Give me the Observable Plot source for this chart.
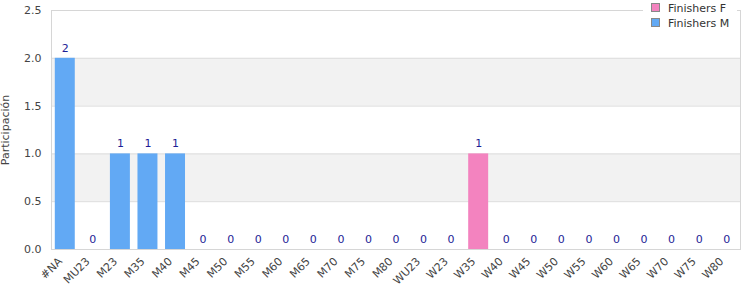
<!DOCTYPE html>
<html><head><meta charset="utf-8">
<script src="https://cdn.jsdelivr.net/npm/d3@7"></script>
<script src="https://cdn.jsdelivr.net/npm/@observablehq/plot@0.6"></script>
<style>
body{margin:0;background:#fff;font-family:"DejaVu Sans",sans-serif;}
#wrap{position:relative;width:750px;height:300px;}
#legend{position:absolute;left:643px;top:0;width:94px;height:30px;background:#fff;font-size:11px;color:#333;}
#legend div{position:absolute;left:8px;white-space:nowrap;}
#legend span{display:inline-block;width:7px;height:7px;border:1px solid #888;margin-right:8px;vertical-align:0px;}
</style></head>
<body><div id="wrap"><div id="chart"></div>
<div id="legend"><div style="top:2px"><span style="background:#f383bf"></span>Finishers F</div><div style="top:17px"><span style="background:#62a9f4"></span>Finishers M</div></div></div>
<script>
const categoriesM = ["#NA","MU23","M23","M35","M40","M45","M50","M55","M60","M65","M70","M75","M80"];
const finishersM = [2,0,1,1,1,0,0,0,0,0,0,0,0];
const categoriesF = ["WU23","W23","W35","W40","W45","W50","W55","W60","W65","W70","W75","W80"];
const finishersF = [0,0,1,0,0,0,0,0,0,0,0,0];
const yTicks = [0,0.5,1,1.5,2,2.5];
const bands = [[0.5,1],[1.5,2]];

const categories = [...categoriesM, ...categoriesF];
const data = [
  ...categoriesM.map((c,i)=>({cat:c, v:finishersM[i], s:"Finishers M"})),
  ...categoriesF.map((c,i)=>({cat:c, v:finishersF[i], s:"Finishers F"}))
];

const chart = Plot.plot({
  width:750, height:300,
  marginLeft:51, marginRight:10, marginTop:10, marginBottom:51,
  style:{fontFamily:"DejaVu Sans, sans-serif", fontSize:"11px", color:"#444"},
  x:{domain:categories, paddingInner:0.275, paddingOuter:0.1375, round:false, label:null},
  y:{domain:[0,2.5], label:null},
  color:{domain:["Finishers F","Finishers M"], range:["#f383bf","#62a9f4"]},
  marks:[
    Plot.rectY(bands,{y1:d=>d[0], y2:d=>d[1], fill:"#f2f2f2"}),
    Plot.ruleY(yTicks,{stroke:"#dcdcdc"}),
    Plot.frame({stroke:"#d6d6d6"}),
    Plot.barY(data,{x:"cat", y:"v", fill:"s"}),
    Plot.text(data,{x:"cat", y:"v", text:d=>String(d.v), dy:-10, fill:"#1e1e96", fontSize:11}),
    Plot.axisY({ticks:yTicks, tickFormat:d3.format(".1f"), tickSize:0, tickPadding:10, fill:"#444",
      label:"Participación", labelAnchor:"center", labelArrow:"none", labelOffset:50}),
    Plot.axisX({tickRotate:-45, tickSize:0, tickPadding:8, dx:-5, dy:2, fill:"#444", label:null})
  ]
});
document.getElementById("chart").appendChild(chart);
</script></body></html>
